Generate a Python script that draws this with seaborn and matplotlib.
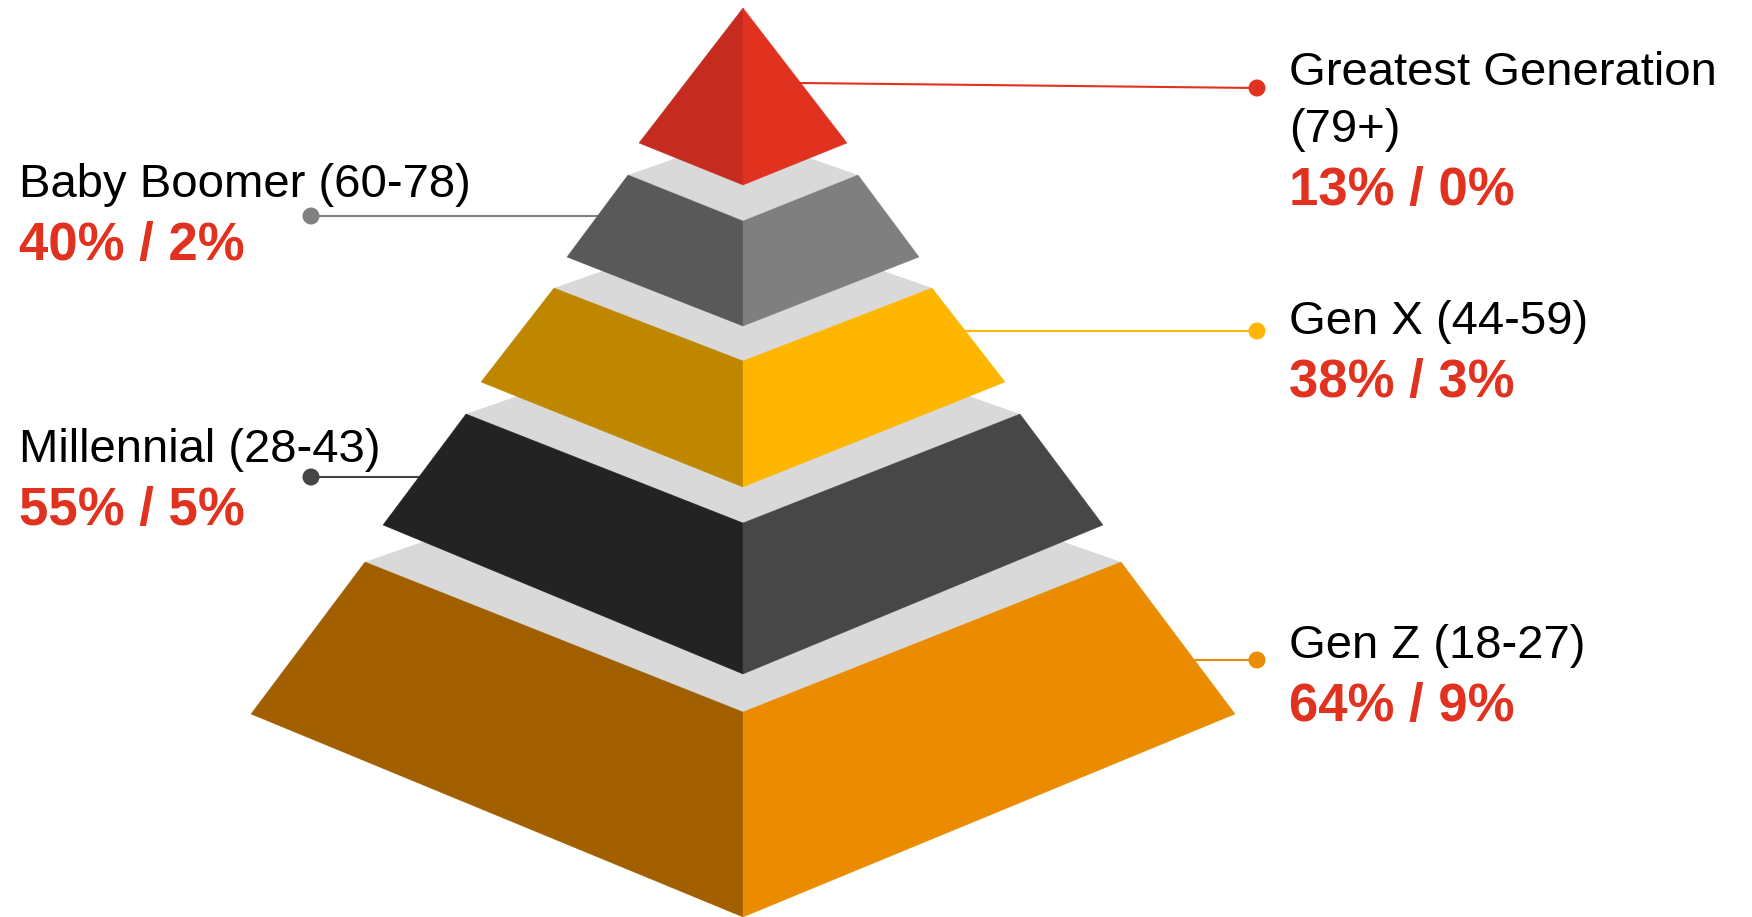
import matplotlib
matplotlib.use("Agg")
import matplotlib.pyplot as plt
import seaborn as sns
import pandas as pd

# ---------------- data ----------------
generations = ["Greatest Generation", "Baby Boomer", "Gen X", "Millennial", "Gen Z"]
age_ranges = ["(79+)", "(60-78)", "(44-59)", "(28-43)", "(18-27)"]
share_first = [13, 40, 38, 55, 64]
share_second = [0, 2, 3, 5, 9]
label_side = ["right", "left", "right", "left", "right"]

# ---------------- styles ----------------
left_face = ["#C52B1F", "#595959", "#BF8600", "#232323", "#A15F00"]
right_face = ["#E0321F", "#7F7F7F", "#FFB600", "#474747", "#EA8B00"]
leader_color = ["#E0321F", "#808080", "#FFB600", "#454545", "#EA8B00"]
top_color = "#D9D9D9"
accent = "#E0321F"

# ---------------- layout (pixel space) ----------------
W, H = 1752, 917
cx = 743
tier_top_y = [8, 175, 288, 414, 562]       # side-corner y at top of tier
tier_top_w = [0, 115, 189, 277, 378]       # half-width at top
tier_top_front = [8, 221, 361, 523, 712]   # front-corner y at top
tier_bot_y = [143, 257, 382, 525, 714]     # side-corner y at bottom
tier_bot_w = [104, 176, 262, 360, 492]     # half-width at bottom
tier_bot_front = [185, 326, 487, 674, 917] # front-corner y at bottom
back_ratio = 0.35
leader_y0 = [83, 216, 331, 477, 660]
dot_y = [88, 216, 331, 477, 660]
dot_x = {"left": 311, "right": 1257}
text_x = {"left": 19, "right": 1289}
name_base = [85, 197, 334, 462, 658]

sns.set_theme(style="white")
plt.rcParams["font.family"] = ["Liberation Sans", "DejaVu Sans"]

fig = plt.figure(figsize=(W / 100, H / 100), dpi=100)
ax = fig.add_axes([0, 0, 1, 1])

# pyramid tiers, drawn bottom to top (painter's order)
for i in reversed(range(len(generations))):
    yt, wt, yb, wb = tier_top_y[i], tier_top_w[i], tier_bot_y[i], tier_bot_w[i]
    ft, fb = tier_top_front[i], tier_bot_front[i]
    if wt > 0:
        ax.fill([cx - wt, cx, cx + wt, cx], [yt, ft, yt, yt - back_ratio * wt],
                color=top_color, lw=0, zorder=2)
    ax.fill([cx - wt, cx, cx, cx - wb], [yt, ft, fb, yb], color=left_face[i],
            lw=0.3, ec=left_face[i], zorder=2)
    ax.fill([cx, cx + wt, cx + wb, cx], [ft, yt, yb, fb], color=right_face[i],
            lw=0.3, ec=right_face[i], zorder=2)

# leader lines
rows = []
for i, g in enumerate(generations):
    y0 = leader_y0[i]
    frac = (y0 - tier_top_y[i]) / (tier_bot_y[i] - tier_top_y[i])
    half = tier_top_w[i] + frac * (tier_bot_w[i] - tier_top_w[i])
    side = label_side[i]
    x0 = cx + half if side == "right" else cx - half
    rows.append({"gen": g, "x": x0, "y": y0})
    rows.append({"gen": g, "x": dot_x[side], "y": dot_y[i]})
lines = pd.DataFrame(rows)
palette = dict(zip(generations, leader_color))
sns.lineplot(data=lines, x="x", y="y", hue="gen", units="gen", estimator=None,
             sort=False, palette=palette, linewidth=1.5, legend=False, ax=ax, zorder=1)

dots = pd.DataFrame({"gen": generations,
                     "x": [dot_x[s] for s in label_side],
                     "y": dot_y})
sns.scatterplot(data=dots, x="x", y="y", hue="gen", palette=palette, s=150,
                linewidth=0, legend=False, ax=ax, zorder=3)

# labels
for i, g in enumerate(generations):
    side = label_side[i]
    tx = text_x[side]
    yb = name_base[i]
    if g == "Greatest Generation":
        ax.text(tx, yb, g, fontsize=34, color="black", va="baseline", ha="left")
        yb += 57
        ax.text(tx, yb, age_ranges[i], fontsize=34, color="black", va="baseline", ha="left")
    else:
        ax.text(tx, yb, f"{g} {age_ranges[i]}", fontsize=34, color="black",
                va="baseline", ha="left")
    ax.text(tx, yb + 63, f"{share_first[i]}% / {share_second[i]}%", fontsize=38,
            fontweight="bold", color=accent, va="baseline", ha="left")

ax.set_xlim(0, W)
ax.set_ylim(H, 0)
ax.axis("off")

fig.savefig("out.png", dpi=100)
